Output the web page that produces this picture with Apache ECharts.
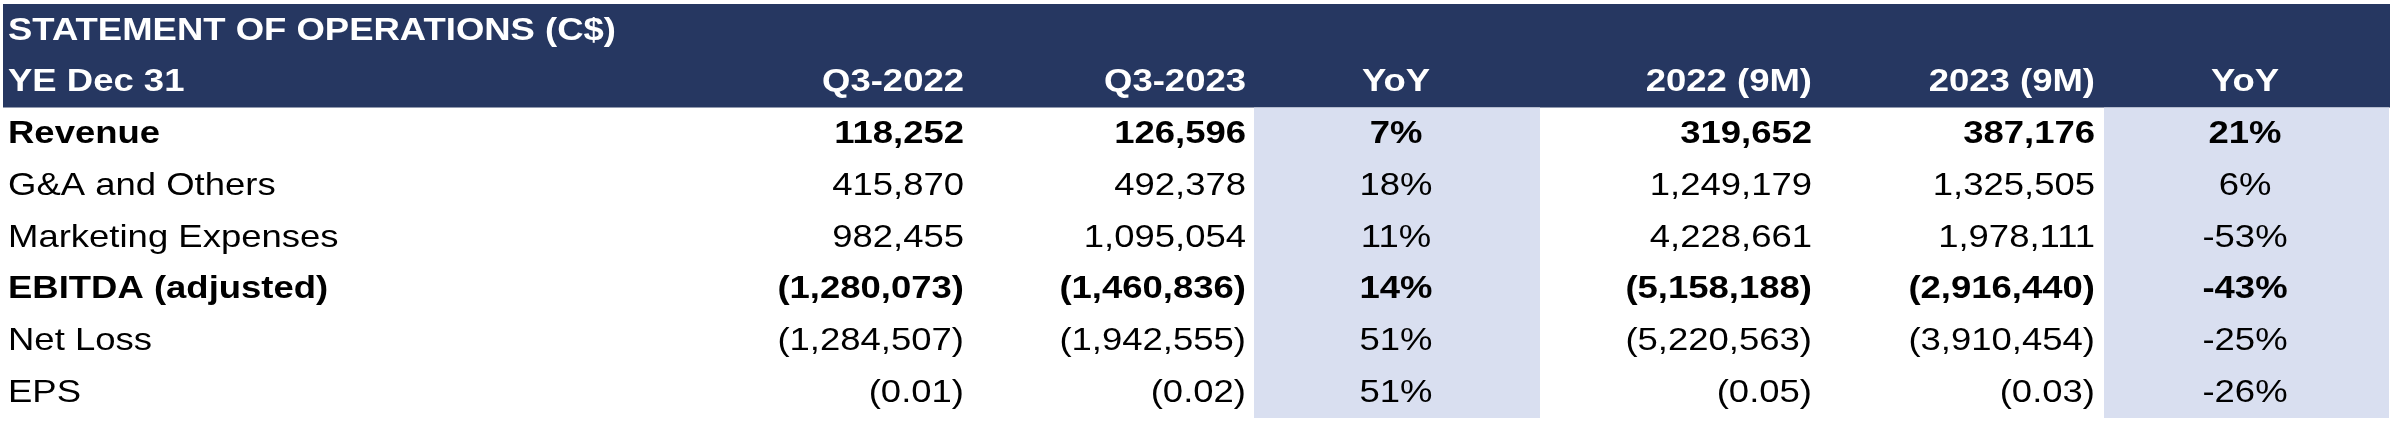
<!DOCTYPE html>
<html><head><meta charset="utf-8">
<script src="https://cdn.jsdelivr.net/npm/echarts@6/dist/echarts.min.js"></script>
<style>html,body{margin:0;padding:0;background:#fff}#c{width:2402px;height:436px}</style>
</head><body><div id="c"></div>
<script>
const title = 'STATEMENT OF OPERATIONS (C$)';
const headers = ['YE Dec 31','Q3-2022','Q3-2023','YoY','2022 (9M)','2023 (9M)','YoY'];
const rowLabels = ['Revenue','G&A and Others','Marketing Expenses','EBITDA (adjusted)','Net Loss','EPS'];
const boldRows = [true,false,false,true,false,false];
const q3_2022 = ['118,252','415,870','982,455','(1,280,073)','(1,284,507)','(0.01)'];
const q3_2023 = ['126,596','492,378','1,095,054','(1,460,836)','(1,942,555)','(0.02)'];
const yoyQ = ['7%','18%','11%','14%','51%','51%'];
const m9_2022 = ['319,652','1,249,179','4,228,661','(5,158,188)','(5,220,563)','(0.05)'];
const m9_2023 = ['387,176','1,325,505','1,978,111','(2,916,440)','(3,910,454)','(0.03)'];
const yoyM = ['21%','6%','-53%','-43%','-25%','-26%'];

// layout: column anchor x (px on a 0..2402 axis) and alignment
const colX = [8, 964, 1246, 1396, 1812, 2095, 2245];
const colAlign = ['left','right','right','center','right','right','center'];
const rowsCat = ['t','h','r0','r1','r2','r3','r4','r5'];

const cols = [null, q3_2022, q3_2023, yoyQ, m9_2022, m9_2023, yoyM];
const cells = [];
cells.push([colX[0], 't', title, 'left', 1, 1]);
headers.forEach((h,i)=>cells.push([colX[i], 'h', h, colAlign[i], 1, 1]));
rowLabels.forEach((lab,r)=>{
  const b = boldRows[r]?1:0;
  cells.push([colX[0], 'r'+r, lab, 'left', b, 0]);
  for (let c=1;c<7;c++) cells.push([colX[c], 'r'+r, cols[c][r], colAlign[c], b, 0]);
});
// backgrounds: [x0, x1, rowFrom, rowTo, color]
const bgs = [
  [3, 2390, 't', 'h', '#263761'],
  [1254, 1540, 'r0', 'r5', '#d9dff0'],
  [2104, 2389, 'r0', 'r5', '#d9dff0']
];
const chart = echarts.init(document.getElementById('c'));
chart.setOption({
  animation:false,
  grid:{left:0,right:0,top:4,bottom:18},
  xAxis:{type:'value',min:0,max:2402,show:false},
  yAxis:{type:'category',data:rowsCat,inverse:true,show:false,boundaryGap:true},
  series:[
    {type:'custom',data:bgs,renderItem:(p,api)=>{
      const a = api.coord([api.value(0), api.value(2)]);
      const b = api.coord([api.value(1), api.value(3)]);
      const bw = api.size([0,1])[1];
      return {type:'rect',shape:{x:a[0],y:a[1]-bw/2,width:b[0]-a[0],height:b[1]-a[1]+bw},style:{fill:api.value(4)}};
    },encode:{x:[0,1],y:2}},
    {type:'custom',data:cells,renderItem:(p,api)=>{
      const pt = api.coord([api.value(0), api.value(1)]);
      const hdr = api.value(5)===1;
      return {type:'text',x:pt[0],y:pt[1]+1,scaleX:1.14,
        style:{text:String(api.value(2)),textAlign:api.value(3),textVerticalAlign:'middle',
          font:(api.value(4)?'bold ':'')+(hdr?'32px':'32px')+' "Liberation Sans", Arial, sans-serif',
          fill:hdr?'#ffffff':'#000000'}};
    },encode:{x:0,y:1}}
  ]
});
</script></body></html>
